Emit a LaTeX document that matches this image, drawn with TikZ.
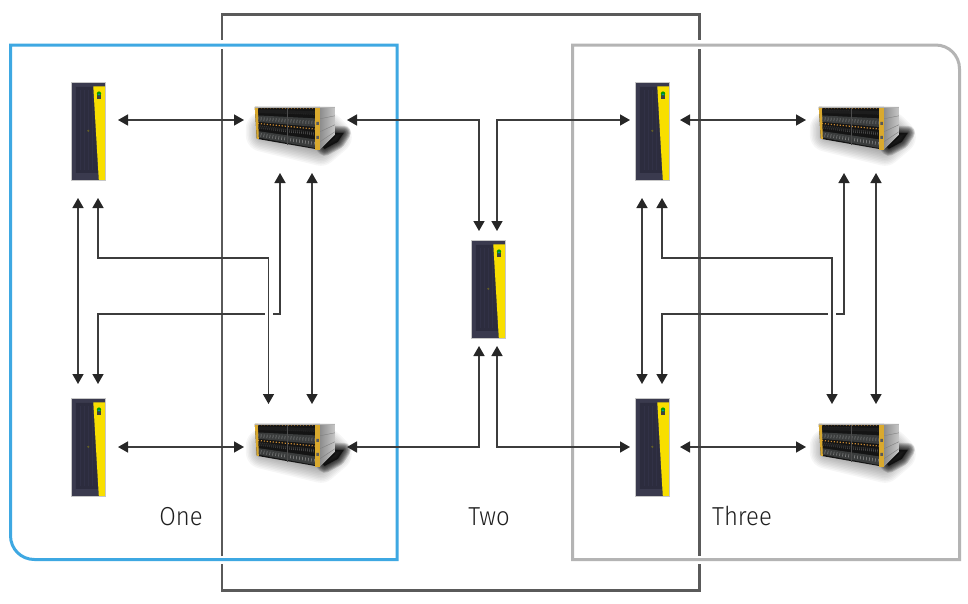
\documentclass[tikz,border=0pt]{standalone}
\usepackage{fontspec}
\setmainfont{Fira Sans}[UprightFont=* Light,FakeStretch=0.92]
\usetikzlibrary{arrows.meta}
\definecolor{framedark}{HTML}{5A5A5A}
\definecolor{frameblue}{HTML}{3EA8E2}
\definecolor{framegray}{HTML}{B4B4B4}
\definecolor{linec}{HTML}{3C3C3C}
\definecolor{tipc}{HTML}{262626}
\definecolor{rackbody}{HTML}{3A3A4E}
\definecolor{rackpanel}{HTML}{2C2C3E}
\definecolor{rackgrid}{HTML}{313146}
\definecolor{rackyellow}{HTML}{F8DF00}
\definecolor{arrayyellow}{HTML}{D9A92E}
\definecolor{arrayorange}{HTML}{C98A34}
\definecolor{arrayrowa}{HTML}{141414}
\definecolor{arrayrowb}{HTML}{3A3C3C}
\tikzset{
  x=1pt,y=-1pt,
  conn/.style={draw=linec,line width=1.5pt,line join=miter},
  bigtip/.tip={Triangle[length=10pt,width=11pt,fill=tipc,color=tipc]},
  both/.style={conn,bigtip-bigtip},
  tohead/.style={conn,-bigtip},
  fromhead/.style={conn,bigtip-},
  darkframe/.style={draw=framedark,line width=2.6pt,line cap=butt},
  blueframe/.style={draw=frameblue,line width=3pt},
  grayframe/.style={draw=framegray,line width=3pt},
  label/.style={anchor=base,font=\fontsize{26}{30}\selectfont,text=black!88},
  slot/.style={inner sep=0pt,minimum size=0pt},
  rack/.pic={
    \fill[rackbody] (0,0) rectangle (34,98);
    \fill[rackpanel] (5,5) -- (22,5) -- (27,91) -- (5,91) -- cycle;
    \foreach \gx in {9,13,17,21}{\draw[rackgrid,line width=.5pt] (\gx,8) -- (\gx,88);}
    \fill[rackyellow] (22.5,4.5) -- (34,4.5) -- (34,98) -- (28,98) -- cycle;
    \fill[black!40!olive] (17.5,49) circle (1.2);
    \fill[black!75] (26.2,13) rectangle (30.2,17);
    \fill[green!60!black] (28.2,11.8) circle (2.2);
    \fill[cyan!60!blue] (28.2,12.6) circle (1);
    \draw[black!22,line width=.5pt] (0,0) rectangle (34,98);
  },
  storage/.pic={
    % soft shadow
    \foreach \w in {34,31,...,1}{
      \fill[black,opacity=.035,draw=black,line width=\w pt,line join=round]
        (8,28) -- (66,42) -- (80,30) -- (72,22) -- (8,22) -- cycle;
    }
    \foreach \w in {14,12,...,2}{
      \fill[black,opacity=.15,draw=black,line width=\w pt,line join=round]
        (68,40) -- (80,26) -- (89,26) -- (83,35) -- (70,42) -- cycle;
    }
    % side
    \shade[left color=black!45,right color=black!22] (65,0) -- (80,0) -- (80,28) -- (65,43) -- cycle;
    \draw[black!50,line width=.4pt] (65,12) -- (80,9) (65,25) -- (80,18) (65,35) -- (80,25);
    % front
    \fill[arrayrowa] (0,0) -- (65,0) -- (65,43) -- (2,32) -- cycle;
    \foreach \ta/\tb/\c in {.27/.47/arrayrowb,.76/.96/arrayrowb}{
      \fill[\c] (3,32*\ta) -- (61,43*\ta) -- (61,43*\tb) -- (3,32*\tb) -- cycle;
    }
    \foreach \ta in {.03,.52}{
      \draw[arrayorange,line width=1.2pt,dash pattern=on 1.2pt off 1.8pt] (3,32*\ta) -- (61,43*\ta);
    }
    \foreach \ta in {.14,.63}{
      \draw[black!62,line width=3.5pt,dash pattern=on .4pt off 1.6pt] (3,32*\ta) -- (61,43*\ta);
    }
    \foreach \ta in {.37,.86}{
      \draw[black!45,line width=3.5pt,dash pattern=on .5pt off 2.5pt] (3,32*\ta) -- (61,43*\ta);
    }
    \draw[black!70,line width=.5pt] (32,0) -- (32,38);
    % ears
    \fill[arrayyellow] (0,0) -- (3,0) -- (4,32) -- (2,32) -- cycle;
    \fill[arrayyellow] (60,0) -- (65,0) -- (65,43.5) -- (60,43.5) -- cycle;
    \fill[black!65] (61.5,15) rectangle (64,18) (61.5,29) rectangle (64,32);
    \fill[black!30] (0,0) rectangle (80,.6);
  },
}
\begin{document}
\begin{tikzpicture}
\useasboundingbox (0,0) rectangle (968,603);
\fill[white] (0,0) rectangle (968,603);

% domain outlines
\draw[darkframe] (222,40) -- (222,14.5) -- (699.5,14.5) -- (699.5,40);
\draw[darkframe] (699.5,49) -- (699.5,556);
\draw[darkframe] (699.5,564) -- (699.5,590.5) -- (222,590.5) -- (222,564);
\draw[darkframe] (222,556) -- (222,49);
\draw[blueframe] (10.5,45) -- (397,45) -- (397,559.5) -- (34.5,559.5) .. controls (21,559.5) and (10.5,549) .. (10.5,535.5) -- cycle;
\draw[grayframe] (572.5,45) -- (935.5,45) .. controls (949,45) and (959.5,55.5) .. (959.5,69) -- (959.5,559.5) -- (572.5,559.5) -- cycle;

% equipment
\node[slot,minimum width=34pt,minimum height=98pt] (r1) at (88,131) {};
\node[slot,minimum width=34pt,minimum height=98pt] (r2) at (88,447) {};
\node[slot,minimum width=34pt,minimum height=98pt] (rc) at (488,289) {};
\node[slot,minimum width=34pt,minimum height=98pt] (r3) at (652,131) {};
\node[slot,minimum width=34pt,minimum height=98pt] (r4) at (652,447) {};
\node[slot,minimum width=80pt,minimum height=43pt] (a1) at (295,128.5) {};
\node[slot,minimum width=80pt,minimum height=43pt] (a2) at (295,445.5) {};
\node[slot,minimum width=80pt,minimum height=43pt] (a3) at (859,128.5) {};
\node[slot,minimum width=80pt,minimum height=43pt] (a4) at (859,445.5) {};
\pic at (r1.north west) {rack};
\pic at (r2.north west) {rack};
\pic at (rc.north west) {rack};
\pic at (r3.north west) {rack};
\pic at (r4.north west) {rack};
\pic at (a1.north west) {storage};
\pic at (a2.north west) {storage};
\pic at (a3.north west) {storage};
\pic at (a4.north west) {storage};

% connector ends
\coordinate (r1E) at (118,120); \coordinate (a1W) at (244,120); \coordinate (a1E) at (347,120);
\coordinate (r2E) at (118,447); \coordinate (a2W) at (244,447); \coordinate (a2E) at (347,447);
\coordinate (r3W) at (630,120); \coordinate (r3E) at (680,120); \coordinate (a3W) at (806,120);
\coordinate (r4W) at (630,447); \coordinate (r4E) at (680,447); \coordinate (a4W) at (806,447);
\coordinate (rcNa) at (479,231); \coordinate (rcNb) at (497,231);
\coordinate (rcSa) at (479,346); \coordinate (rcSb) at (497,346);
\coordinate (r1Sa) at (78,198); \coordinate (r1Sb) at (98,198);
\coordinate (r2Na) at (78,384); \coordinate (r2Nb) at (98,384);
\coordinate (r3Sa) at (642,198); \coordinate (r3Sb) at (662,198);
\coordinate (r4Na) at (642,384); \coordinate (r4Nb) at (662,384);
\coordinate (a1Sa) at (280,173); \coordinate (a1Sb) at (312,173);
\coordinate (a2Na) at (268.5,404); \coordinate (a2Nb) at (312,404);
\coordinate (a3Sa) at (844,173); \coordinate (a3Sb) at (876,173);
\coordinate (a4Na) at (832,404); \coordinate (a4Nb) at (876,404);
\coordinate (g1L) at (265,314); \coordinate (g1R) at (273,314);
\coordinate (g2L) at (828,314); \coordinate (g2R) at (836,314);

% connectors
\draw[both] (r1E) -- (a1W);
\draw[both] (r2E) -- (a2W);
\draw[both] (r3E) -- (a3W);
\draw[both] (r4E) -- (a4W);
\draw[both] (a1E) -| (rcNa);
\draw[both] (r3W) -| (rcNb);
\draw[both] (a2E) -| (rcSa);
\draw[both] (r4W) -| (rcSb);
\draw[both] (r1Sa) -- (r2Na);
\draw[both] (r3Sa) -- (r4Na);
\draw[both] (a1Sb) -- (a2Nb);
\draw[both] (a3Sb) -- (a4Nb);
\draw[both] (r1Sb) |- (a2Na |- 0,258) -- (a2Na);
\draw[both] (r3Sb) |- (a4Na |- 0,258) -- (a4Na);
\draw[fromhead] (r2Nb) |- (g1L);
\draw[tohead] (g1R) -| (a1Sa);
\draw[fromhead] (r4Nb) |- (g2L);
\draw[tohead] (g2R) -| (a3Sa);

% labels
\node[label] (lone) at (181,525) {One};
\node[label] (ltwo) at (489,525) {Two};
\node[label] (lthree) at (742,525) {Three};
\end{tikzpicture}
\end{document}
